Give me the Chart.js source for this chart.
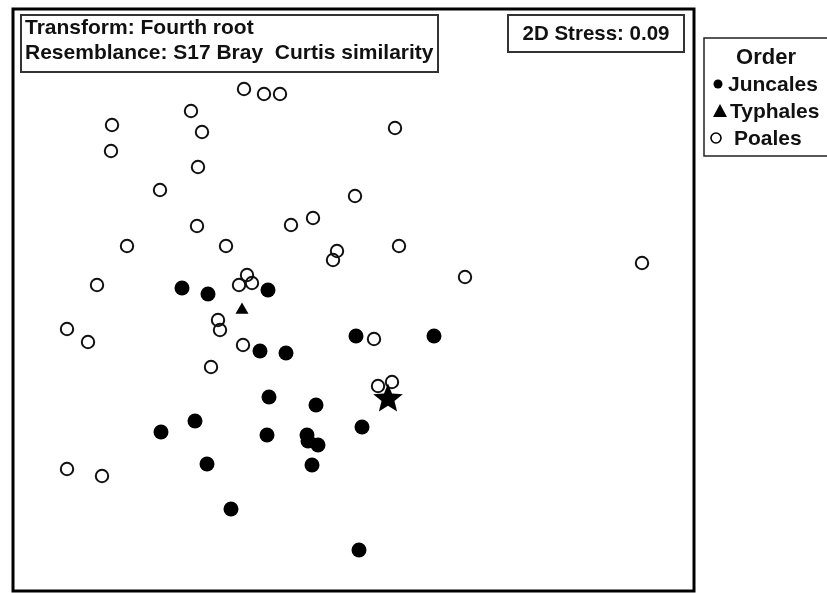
<!DOCTYPE html>
<html><head><meta charset="utf-8">
<script src="https://cdn.jsdelivr.net/npm/chart.js@4/dist/chart.umd.min.js"></script>
<style>html,body{margin:0;padding:0;background:#fff;overflow:hidden}</style>
</head><body>
<canvas id="c" width="827" height="593"></canvas>
<script>
// NMDS coordinates (arbitrary units)
const poalesX = [-1.09,-0.89,-0.73,-1.62,-2.41,-1.51,0.42,-2.42,-1.55,-1.93,0.02,-1.56,-0.62,-0.40,-2.26,-1.27,-0.16,-0.20,0.46,1.12,2.89,-2.56,-1.06,-1.14,-1.01,-1.35,-1.33,-2.86,-2.65,-1.10,0.21,-1.42,0.25,0.39,-2.86,-2.51];
const poalesY = [2.11,2.06,2.06,1.89,1.75,1.68,1.72,1.49,1.33,1.10,1.04,0.74,0.75,0.82,0.54,0.54,0.49,0.40,0.54,0.23,0.37,0.15,0.25,0.15,0.17,-0.20,-0.30,-0.29,-0.42,-0.45,-0.39,-0.67,-0.86,-0.82,-1.69,-1.76];
const juncalesX = [-1.71,-1.45,-0.85,-0.93,-0.67,0.03,0.81,-0.84,-0.37,-1.58,-1.92,-0.86,-0.46,-0.45,-0.35,0.09,-1.46,-0.41,-1.22,0.06];
const juncalesY = [0.12,0.06,0.10,-0.51,-0.53,-0.36,-0.36,-0.97,-1.05,-1.21,-1.32,-1.35,-1.35,-1.41,-1.45,-1.27,-1.64,-1.65,-2.09,-2.50];
const typhalesX = [-1.11];
const typhalesY = [-0.10];
const starX = [0.35];
const starY = [-0.98];
const legendTitle = 'Order';
const legendLabels = ['Juncales','Typhales','Poales'];
const infoLines = ['Transform: Fourth root','Resemblance: S17 Bray  Curtis similarity'];
const stressText = '2D Stress: 0.09';

const pts = (xs, ys) => xs.map((x, i) => ({x, y: ys[i]}));

// filled five-point star marker
const starImg = document.createElement('canvas');
starImg.width = 32; starImg.height = 32;
(function(){
  const g = starImg.getContext('2d');
  g.beginPath();
  for (let i = 0; i < 10; i++) {
    const r = i % 2 === 0 ? 15.5 : 6.8;
    const a = -Math.PI / 2 + i * Math.PI / 5;
    const px = 16 + r * Math.cos(a), py = 17 + r * Math.sin(a);
    i === 0 ? g.moveTo(px, py) : g.lineTo(px, py);
  }
  g.closePath();
  g.fillStyle = '#000';
  g.fill();
})();

const FONT = '"Liberation Sans", Arial, sans-serif';

const decor = {
  id: 'decor',
  afterDatasetsDraw(chart) {
    const ctx = chart.ctx;
    const a = chart.chartArea;
    ctx.save();
    // plot frame
    ctx.strokeStyle = '#000';
    ctx.lineWidth = 3;
    ctx.strokeRect(a.left, a.top, a.right - a.left, a.bottom - a.top);

    // info box
    ctx.fillStyle = '#fff';
    ctx.fillRect(21, 15, 417, 57);
    ctx.strokeStyle = '#333';
    ctx.lineWidth = 2;
    ctx.strokeRect(21, 15, 417, 57);
    ctx.fillStyle = '#111';
    ctx.font = 'bold 21px ' + FONT;
    ctx.textBaseline = 'alphabetic';
    ctx.textAlign = 'left';
    ctx.fillText(infoLines[0], 25, 34);
    ctx.fillText(infoLines[1], 25, 59);

    // stress box
    ctx.fillStyle = '#fff';
    ctx.fillRect(508, 15, 176, 37);
    ctx.strokeStyle = '#333';
    ctx.strokeRect(508, 15, 176, 37);
    ctx.fillStyle = '#111';
    ctx.textAlign = 'center';
    ctx.font = 'bold 20.5px ' + FONT;
    ctx.fillText(stressText, 596, 40);

    // legend box
    ctx.strokeStyle = '#222';
    ctx.lineWidth = 1.5;
    ctx.strokeRect(704, 38, 140, 118);
    ctx.fillStyle = '#111';
    ctx.font = 'bold 22px ' + FONT;
    ctx.textAlign = 'center';
    ctx.fillText(legendTitle, 766, 64);
    ctx.font = 'bold 21px ' + FONT;
    ctx.textAlign = 'left';
    ctx.fillText(legendLabels[0], 728, 91);
    ctx.fillText(legendLabels[1], 730, 118);
    ctx.fillText(legendLabels[2], 734, 145);
    // legend markers
    ctx.fillStyle = '#000';
    ctx.beginPath(); ctx.arc(718, 84, 4.5, 0, Math.PI * 2); ctx.fill();
    ctx.beginPath(); ctx.moveTo(720, 104); ctx.lineTo(727, 117); ctx.lineTo(713, 117); ctx.closePath(); ctx.fill();
    ctx.strokeStyle = '#000'; ctx.lineWidth = 1.6;
    ctx.beginPath(); ctx.arc(716, 138, 5, 0, Math.PI * 2); ctx.stroke();
    ctx.restore();
  }
};

new Chart(document.getElementById('c'), {
  type: 'scatter',
  data: {
    datasets: [
      { label: 'star', data: pts(starX, starY), pointStyle: starImg, pointRadius: 15, order: 0 },
      { label: legendLabels[1], data: pts(typhalesX, typhalesY), pointStyle: 'triangle', pointRadius: 7.5,
        backgroundColor: '#000', borderColor: '#000', borderWidth: 0, order: 1 },
      { label: legendLabels[0], data: pts(juncalesX, juncalesY), pointStyle: 'circle', pointRadius: 7.5,
        backgroundColor: '#000', borderColor: '#000', borderWidth: 0, order: 2 },
      { label: legendLabels[2], data: pts(poalesX, poalesY), pointStyle: 'circle', pointRadius: 6.2,
        backgroundColor: 'rgba(255,255,255,0)', borderColor: '#111', borderWidth: 2, order: 3 }
    ]
  },
  options: {
    responsive: false,
    animation: false,
    events: [],
    clip: false,
    layout: { autoPadding: false, padding: { left: 13, top: 9, right: 133, bottom: 2 } },
    plugins: { legend: { display: false }, tooltip: { enabled: false }, title: { display: false } },
    scales: {
      x: { type: 'linear', min: -3.40, max: 3.41, display: false },
      y: { type: 'linear', min: -2.91, max: 2.91, display: false }
    }
  },
  plugins: [decor]
});
</script>
</body></html>
